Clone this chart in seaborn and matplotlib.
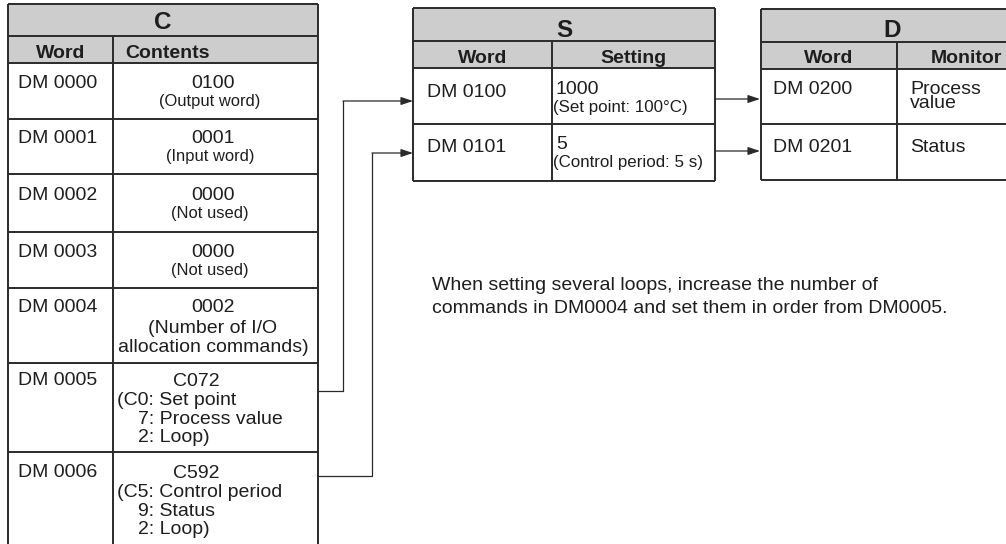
import matplotlib
matplotlib.use("Agg")
import matplotlib.pyplot as plt
import seaborn as sns
from matplotlib.patches import Rectangle

sns.set_theme(style="white")
plt.rcParams["font.family"] = ["Liberation Sans", "DejaVu Sans"]

# ---- Table contents ----
c_title = "C"
c_headers = ["Word", "Contents"]
c_words = ["DM 0000", "DM 0001", "DM 0002", "DM 0003", "DM 0004", "DM 0005", "DM 0006"]
c_contents = [
    ["0100", "(Output word)"],
    ["0001", "(Input word)"],
    ["0000", "(Not used)"],
    ["0000", "(Not used)"],
    ["0002", "(Number of I/O", "allocation commands)"],
    ["C072", "(C0: Set point", "7: Process value", "2: Loop)"],
    ["C592", "(C5: Control period", "9: Status", "2: Loop)"],
]

s_title = "S"
s_headers = ["Word", "Setting"]
s_words = ["DM 0100", "DM 0101"]
s_settings = [["1000", "(Set point: 100°C)"], ["5", "(Control period: 5 s)"]]

d_title = "D"
d_headers = ["Word", "Monitor"]
d_words = ["DM 0200", "DM 0201"]
d_monitors = [["Process", "value"], ["Status"]]

note = ["When setting several loops, increase the number of",
        "commands in DM0004 and set them in order from DM0005."]

# ---- Styling ----
INK = "#1e1e1e"
LINE = "#2a2a2a"
GREY = "#cdcdcd"
BIG, MAIN, SMALL = 17.5, 14, 11.9
BW = 1.4   # border width
CW = 0.9   # connector width

fig = plt.figure(figsize=(10.06, 5.44), dpi=100)
ax = fig.add_axes([0, 0, 1, 1])
ax.set_xlim(0, 1006)
ax.set_ylim(544, 0)
ax.axis("off")


def txt(x, y, s, size=MAIN, ha="left", weight="normal", spacing=1.2):
    ax.text(x, y, s, fontsize=size, ha=ha, va="baseline", color=INK,
            fontweight=weight, linespacing=spacing)


def hline(y, x0, x1, lw=BW, color=LINE):
    ax.plot([x0, x1], [y, y], color=color, lw=lw, solid_capstyle="butt")


def vline(x, y0, y1, lw=BW, color=LINE):
    ax.plot([x, x], [y0, y1], color=color, lw=lw, solid_capstyle="butt")


def table_frame(left, right, mid, top, t_bot, h_bot, rows, bottom, closed=True):
    ax.add_patch(Rectangle((left, top), right - left, h_bot - top,
                           facecolor=GREY, edgecolor="none", zorder=0))
    hline(top, left, right)
    hline(t_bot, left, right)
    hline(h_bot, left, right)
    for y in rows:
        hline(y, left, right)
    if closed:
        hline(bottom, left, right)
    vline(left, top, bottom)
    vline(right, top, bottom)
    vline(mid, t_bot, bottom)


# ---- Table C ----
cL, cR, cM = 8, 318, 113
c_rows = [119, 174, 232, 288, 363, 452]
table_frame(cL, cR, cM, 4, 36, 63, c_rows, 546, closed=False)
txt((cL + cR) / 2, 29, c_title, BIG, "center", "bold")
txt((cL + cM) / 2, 58, c_headers[0], MAIN, "center", "bold")
txt(cM + 12, 58, c_headers[1], MAIN, "left", "bold")

c_base = [88, 143, 200, 257, 312, 385, 477]
ccx = 213
for i, (w, lines) in enumerate(zip(c_words, c_contents)):
    b = c_base[i]
    txt(18, b, w)
    if i < 4:
        txt(ccx, b, lines[0], MAIN, "center")
        txt(ccx - 3, b + 18, lines[1], SMALL, "center")
    elif i == 4:
        for k, s in enumerate(lines):
            txt(ccx, b + 21 * k if k < 2 else b + 40, s, MAIN, "center")
    else:
        txt(173, b + 1, lines[0])
        txt(117, b + 20, lines[1])
        txt(138, b + 39, lines[2])
        txt(138, b + 57, lines[3])

# ---- Table S ----
sL, sR, sM = 413, 715, 552
table_frame(sL, sR, sM, 8, 41, 68, [124], 181)
txt((sL + sR) / 2, 37, s_title, BIG, "center", "bold")
txt((sL + sM) / 2, 63, s_headers[0], MAIN, "center", "bold")
txt((sM + sR) / 2, 63, s_headers[1], MAIN, "center", "bold")
for i, (w, lines) in enumerate(zip(s_words, s_settings)):
    b = 97 + 55 * i
    txt(427, b, w)
    txt(556, b - 3, lines[0])
    txt(553, b + 15, lines[1], 12.2)

# ---- Table D ----
dL, dR, dM = 761, 1030, 897
table_frame(dL, dR, dM, 9, 42, 69, [124], 180)
txt(892, 37, d_title, BIG, "center", "bold")
txt((dL + dM) / 2, 63, d_headers[0], MAIN, "center", "bold")
txt(966, 63, d_headers[1], MAIN, "center", "bold")
for i, (w, lines) in enumerate(zip(d_words, d_monitors)):
    b = 94 + 58 * i
    txt(773, b, w)
    # baseline alignment of a multi-line text refers to its last line
    txt(910, b + 14 * (len(lines) - 1), "\n".join(lines), spacing=0.78)

# ---- Connectors ----
def arrow(x0, x1, y):
    ax.annotate("", xy=(x1, y), xytext=(x0, y),
                arrowprops=dict(arrowstyle="-|>,head_length=0.6,head_width=0.2",
                                color=LINE, lw=CW, shrinkA=0, shrinkB=0))


ax.plot([cR, 343, 343], [391, 391, 101], color=LINE, lw=CW)
arrow(343, sL, 101)
ax.plot([cR, 372, 372], [476, 476, 153], color=LINE, lw=CW)
arrow(372, sL, 153)
arrow(sR, dL - 1, 99)
arrow(sR, dL - 1, 151)

# ---- Note ----
txt(432, 290, note[0])
txt(432, 313, note[1])

fig.savefig("out.png", dpi=100)
